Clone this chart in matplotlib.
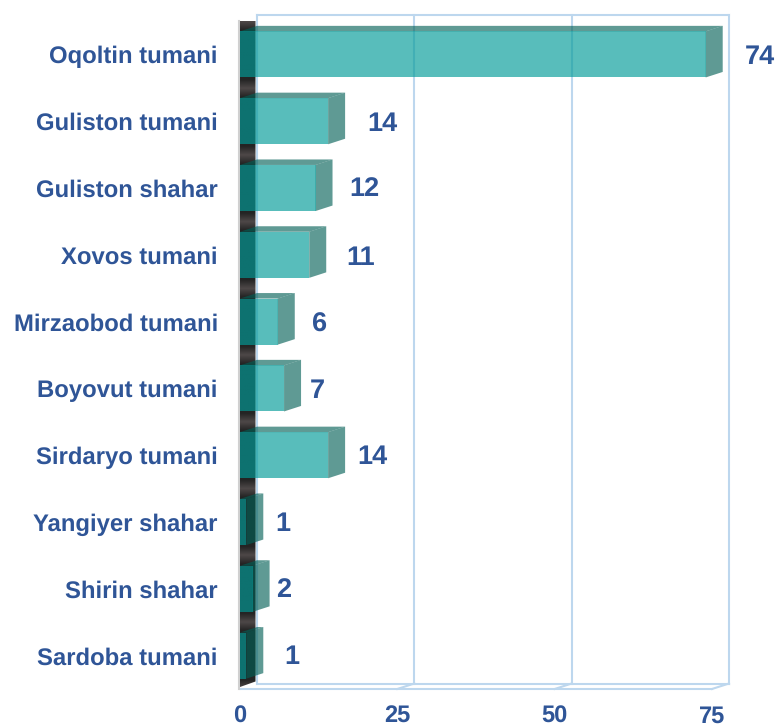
import numpy as np
import matplotlib
matplotlib.use('Agg')
import matplotlib.pyplot as plt
from matplotlib.colors import LinearSegmentedColormap
from matplotlib.patches import Polygon

plt.rcParams['font.family'] = ['Liberation Sans', 'DejaVu Sans']
plt.rcParams['text.kerning_factor'] = 0
plt.rcParams['text.hinting'] = 'no_hinting'

districts = ['Oqoltin tumani', 'Guliston tumani', 'Guliston shahar', 'Xovos tumani',
             'Mirzaobod tumani', 'Boyovut tumani', 'Sirdaryo tumani', 'Yangiyer shahar',
             'Shirin shahar', 'Sardoba tumani']
values = [74, 14, 12, 11, 6, 7, 14, 1, 2, 1]
x_ticks = [0, 25, 50, 75]

# label gap from the end of each bar, in pixels, as in the picture
label_gap = [39, 39, 34, 37, 34, 26, 29, 29, 23, 38]
label_dy = [-3, -3, -1, -3, -3, -3, -2, -2, -1, -1]

blue = '#2F5597'
grid_col = '#BDD7EE'
front_col = '#029B98'
side_col = '#025F56'

fig = plt.figure(figsize=(7.76, 7.27), dpi=100)
ax = fig.add_axes([240 / 776, (727 - 689) / 727, 472 / 776, 668 / 727])

# depth of the fake 3d box, in data units
dx = 17 / (472 / 75)
dy = 5.5 / (668 / 10)
wall_w = 15.5 / (472 / 75)
bar_h = 0.69
y_top, y_bot = -0.5, 9.5

# back wall and floor
for t in x_ticks[1:]:
    ax.plot([t + dx, t + dx], [y_top - dy, y_bot - dy], color=grid_col, lw=1.5, zorder=1, clip_on=False)
    ax.plot([t, t + dx], [y_bot, y_bot - dy], color=grid_col, lw=1.5, zorder=1, clip_on=False)
ax.plot([dx, 75 + dx], [y_top - dy, y_top - dy], color=grid_col, lw=1.5, zorder=1, clip_on=False)
ax.plot([dx, dx], [y_top - dy, y_bot - dy], color=grid_col, lw=1.5, zorder=1, clip_on=False)
ax.plot([dx, 75 + dx], [y_bot - dy, y_bot - dy], color=grid_col, lw=1.5, zorder=1, clip_on=False)
ax.plot([0, 75], [y_bot, y_bot], color=grid_col, lw=1.5, zorder=1, clip_on=False)
ax.plot([-0.2, -0.2], [y_top, y_bot], color='#D0D0D0', lw=1.5, zorder=1, clip_on=False)

# dark left wall, lighter only in the gap between two bars
cmap = LinearSegmentedColormap.from_list('wall', ['#242424', '#4e4848'])
rows = np.linspace(y_top - dy, y_bot, 700)
gap_dist = np.abs((rows % 1) - 0.5)
shade = np.clip(1 - gap_dist / 0.13, 0, 1)
wall = ax.imshow(shade[:, None], cmap=cmap, aspect='auto', zorder=2, vmin=0, vmax=1,
                 extent=[0, wall_w, y_bot, y_top - dy], origin='upper')
wall_clip = Polygon([(0, y_top), (wall_w, y_top - dy), (wall_w, y_bot - dy - 0.03), (0, y_bot - 0.03)],
                    transform=ax.transData)
wall.set_clip_path(wall_clip)

# bars: top and side faces first, then the front through barh
ypos = np.arange(len(values))
for i, v in enumerate(values):
    top = i - bar_h / 2
    bot = i + bar_h / 2
    ax.fill([0, dx, v + dx, v], [top, top - dy, top - dy, top], color=side_col, alpha=0.63, lw=0, zorder=3, clip_on=False)
    ax.fill([v, v + dx, v + dx, v], [top, top - dy, bot - dy, bot], color=side_col, alpha=0.63, lw=0, zorder=3, clip_on=False)
ax.barh(ypos, values, height=bar_h, color=front_col, alpha=0.66, lw=0, zorder=4, clip_on=False)

for i, v in enumerate(values):
    ax.annotate(str(v), (v, i), xytext=(label_gap[i] * 0.72, label_dy[i] * 0.72), textcoords='offset points',
                color=blue, fontsize=19.5, fontweight='bold', va='center', ha='left', annotation_clip=False, zorder=6)

ax.set_xlim(0, 75)
ax.set_ylim(y_bot, y_top)
ax.set_xticks(x_ticks)
ax.set_yticks(ypos)
ax.set_yticklabels(districts)
ax.tick_params(axis='x', length=0, pad=12, labelsize=17, labelcolor=blue)
ax.tick_params(axis='y', length=0, pad=16, labelsize=17.2, labelcolor=blue)
for lab in ax.get_xticklabels() + ax.get_yticklabels():
    lab.set_fontweight('bold')
for s in ax.spines.values():
    s.set_visible(False)
ax.patch.set_visible(False)

fig.savefig('out.png', dpi=100)
